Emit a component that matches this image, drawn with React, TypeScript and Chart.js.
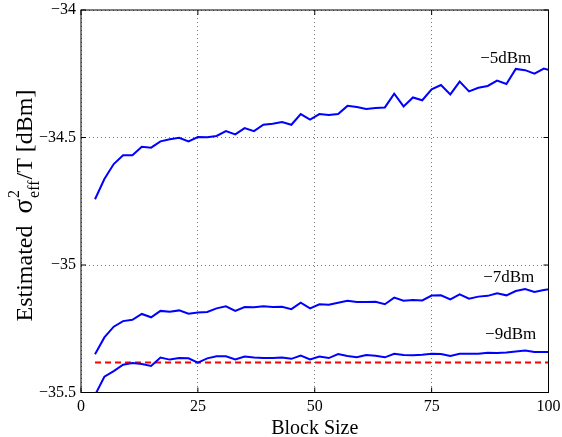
import React, { useEffect, useRef } from 'react';
import { Chart, registerables } from 'chart.js';

Chart.register(...registerables);

const blockSizes = [3, 5, 7, 9, 11, 13, 15, 17, 19, 21, 23, 25, 27, 29, 31, 33, 35, 37, 39, 41, 43, 45, 47, 49, 51, 53, 55, 57, 59, 61, 63, 65, 67, 69, 71, 73, 75, 77, 79, 81, 83, 85, 87, 89, 91, 93, 95, 97, 99, 101];

const est5dBm = [-34.742, -34.663, -34.604, -34.570, -34.570, -34.536, -34.540, -34.515, -34.507, -34.501, -34.515, -34.498, -34.499, -34.494, -34.475, -34.488, -34.463, -34.475, -34.450, -34.446, -34.439, -34.450, -34.408, -34.430, -34.408, -34.412, -34.408, -34.376, -34.380, -34.388, -34.384, -34.382, -34.328, -34.378, -34.343, -34.354, -34.311, -34.294, -34.331, -34.281, -34.319, -34.305, -34.298, -34.277, -34.290, -34.231, -34.236, -34.250, -34.230, -34.240];

const est7dBm = [-35.350, -35.284, -35.242, -35.220, -35.215, -35.192, -35.205, -35.180, -35.183, -35.178, -35.191, -35.186, -35.184, -35.170, -35.162, -35.180, -35.165, -35.166, -35.162, -35.165, -35.164, -35.173, -35.148, -35.170, -35.154, -35.156, -35.148, -35.140, -35.145, -35.145, -35.144, -35.154, -35.128, -35.140, -35.137, -35.139, -35.120, -35.119, -35.135, -35.115, -35.132, -35.124, -35.121, -35.111, -35.119, -35.102, -35.094, -35.106, -35.098, -35.092];

const est9dBm = [-35.510, -35.438, -35.416, -35.391, -35.384, -35.388, -35.396, -35.363, -35.371, -35.365, -35.366, -35.383, -35.366, -35.358, -35.358, -35.370, -35.359, -35.363, -35.365, -35.365, -35.363, -35.368, -35.355, -35.370, -35.359, -35.365, -35.349, -35.357, -35.362, -35.353, -35.356, -35.362, -35.348, -35.353, -35.354, -35.352, -35.348, -35.349, -35.357, -35.348, -35.348, -35.348, -35.344, -35.345, -35.343, -35.339, -35.335, -35.341, -35.341, -35.341];

const referenceLevel = -35.382;
const referenceRange = [3, 100];

const xTickValues = [0, 25, 50, 75, 100];
const yTickValues = [-35.5, -35, -34.5, -34];

const curveLabels = ['\u22125dBm', '\u22127dBm', '\u22129dBm'];
const curveLabelX = [90.85, 91.5, 91.9];
const curveLabelY = [-34.209, -35.065, -35.29];

const xTitle = 'Block Size';

const SERIF = '"Liberation Serif", "Times New Roman", serif';

const framePlugin = {
  id: 'matlabFrame',
  afterDatasetsDraw(chart: any) {
    const { ctx, chartArea } = chart;
    const { left, right, top, bottom } = chartArea;
    const xs = chart.scales.x;
    const ys = chart.scales.y;
    ctx.save();
    ctx.strokeStyle = '#000';
    ctx.lineWidth = 1;
    ctx.setLineDash([]);
    ctx.strokeRect(left, top, right - left, bottom - top);
    const tl = 5;
    ctx.beginPath();
    xTickValues.forEach((v) => {
      const px = xs.getPixelForValue(v);
      ctx.moveTo(px, bottom);
      ctx.lineTo(px, bottom - tl);
      ctx.moveTo(px, top);
      ctx.lineTo(px, top + tl);
    });
    yTickValues.forEach((v) => {
      const py = ys.getPixelForValue(v);
      ctx.moveTo(left, py);
      ctx.lineTo(left + tl, py);
      ctx.moveTo(right, py);
      ctx.lineTo(right - tl, py);
    });
    ctx.stroke();
    ctx.restore();
  },
  afterDraw(chart: any) {
    const { ctx, chartArea } = chart;
    const xs = chart.scales.x;
    const ys = chart.scales.y;
    ctx.save();
    ctx.fillStyle = '#000';
    ctx.textBaseline = 'alphabetic';

    // curve labels
    ctx.font = `17px ${SERIF}`;
    ctx.textAlign = 'center';
    curveLabels.forEach((t, i) => {
      ctx.fillText(t, xs.getPixelForValue(curveLabelX[i]), ys.getPixelForValue(curveLabelY[i]));
    });

    // x title
    ctx.font = `20px ${SERIF}`;
    ctx.textAlign = 'center';
    ctx.fillText(xTitle, (chartArea.left + chartArea.right) / 2, 434);

    // y title with sub/superscripts
    const mainSize = 24;
    const sigSize = 27;
    const scriptSize = 16;
    const partA = 'Estimated  ';
    const partB = '\u03c3';
    const sup = '2';
    const sub = 'eff';
    const partC = '/T [dBm]';
    ctx.textAlign = 'left';
    ctx.font = `${mainSize}px ${SERIF}`;
    const wA = ctx.measureText(partA).width;
    const wC = ctx.measureText(partC).width;
    ctx.font = `${sigSize}px ${SERIF}`;
    const wB = ctx.measureText(partB).width;
    ctx.font = `${scriptSize}px ${SERIF}`;
    const wSup = ctx.measureText(sup).width;
    const wSub = ctx.measureText(sub).width;
    const wS = Math.max(wSup, wSub) + 1;
    const total = wA + wB + wS + wC;
    ctx.translate(32, 206);
    ctx.rotate(-Math.PI / 2);
    let x = -total / 2;
    ctx.font = `${mainSize}px ${SERIF}`;
    ctx.fillText(partA, x, 0);
    x += wA;
    ctx.font = `${sigSize}px ${SERIF}`;
    ctx.fillText(partB, x, 0);
    x += wB + 1;
    ctx.font = `${scriptSize}px ${SERIF}`;
    ctx.fillText(sup, x, -13);
    ctx.fillText(sub, x, 7);
    x += wS;
    ctx.font = `${mainSize}px ${SERIF}`;
    ctx.fillText(partC, x, 0);
    ctx.restore();
  },
};

export default function App() {
  const canvasRef = useRef<HTMLCanvasElement>(null);

  useEffect(() => {
    const toPoints = (ys: number[]) => blockSizes.map((x, i) => ({ x, y: ys[i] }));
    const blue = '#0000ff';
    const chart = new Chart(canvasRef.current as HTMLCanvasElement, {
      type: 'line',
      data: {
        datasets: [
          { data: toPoints(est5dBm), borderColor: blue, borderWidth: 2, pointRadius: 0, tension: 0, clip: 0 } as any,
          { data: toPoints(est7dBm), borderColor: blue, borderWidth: 2, pointRadius: 0, tension: 0, clip: 0 } as any,
          { data: toPoints(est9dBm), borderColor: blue, borderWidth: 2, pointRadius: 0, tension: 0, clip: 0 } as any,
          {
            data: referenceRange.map((x) => ({ x, y: referenceLevel })),
            borderColor: '#ff0000',
            borderWidth: 2,
            borderDash: [6, 4],
            pointRadius: 0,
            clip: 0,
          } as any,
        ],
      },
      options: {
        responsive: false,
        animation: false,
        devicePixelRatio: 1,
        layout: { padding: { left: 0, right: 13.5, top: 10, bottom: 0 } },
        plugins: { legend: { display: false }, tooltip: { enabled: false } },
        scales: {
          x: {
            type: 'linear',
            min: 0,
            max: 100,
            afterBuildTicks: (s: any) => {
              s.ticks = xTickValues.map((v) => ({ value: v }));
            },
            afterFit: (s: any) => {
              s.height = 44.5;
              s.paddingLeft = 0;
              s.paddingRight = 0;
            },
            ticks: { font: { family: SERIF, size: 16 }, color: '#000', padding: 5, maxRotation: 0, autoSkip: false },
            grid: { color: '#777', lineWidth: 1, drawTicks: false },
            border: { display: false, dash: [1, 3] },
          },
          y: {
            type: 'linear',
            min: -35.5,
            max: -34,
            afterBuildTicks: (s: any) => {
              s.ticks = yTickValues.map((v) => ({ value: v }));
            },
            afterFit: (s: any) => {
              s.width = 81;
              s.paddingTop = 0;
              s.paddingBottom = 0;
            },
            ticks: {
              font: { family: SERIF, size: 16 },
              color: '#000',
              padding: 5,
              autoSkip: false,
              callback: (v: any) => String(v).replace('-', '\u2212'),
            },
            grid: { color: '#777', lineWidth: 1, drawTicks: false },
            border: { display: false, dash: [1, 3] },
          },
        },
      } as any,
      plugins: [framePlugin],
    });
    return () => chart.destroy();
  }, []);

  return (
    <div style={{ position: 'fixed', left: 0, top: 0, width: 562, height: 437, background: '#fff' }}>
      <canvas ref={canvasRef} width={562} height={437} style={{ display: 'block', width: 562, height: 437 }} />
    </div>
  );
}
